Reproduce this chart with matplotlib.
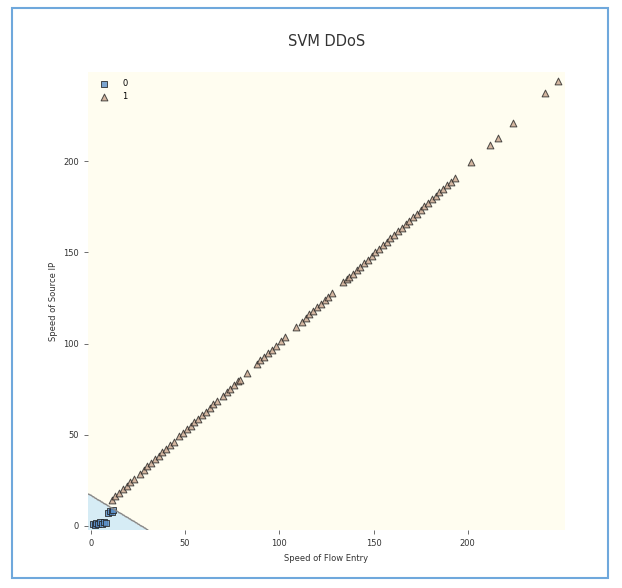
import numpy as np
import matplotlib
matplotlib.use('Agg')
import matplotlib.pyplot as plt
from matplotlib.patches import Rectangle

# clase 0 (cuadrados) cerca del origen
x_clase0 = [1, 2, 3, 4, 5, 6, 7, 8, 9, 10, 11, 12]
y_clase0 = [1, 0.5, 1.5, 1, 2, 1, 2, 1.5, 7, 8, 7.5, 8.5]

# clase 1 (triangulos) sobre la diagonal
x_clase1 = [11, 13, 15, 17, 19, 21, 23,
            26, 28, 30, 32, 34, 36, 38, 40, 42, 44,
            47, 49, 51, 53, 55, 57, 59, 61, 63, 65,
            67, 70, 72, 74, 76, 78, 79, 83,
            88, 90, 92, 94, 96, 98, 101, 103, 109,
            112, 114, 116, 118, 120, 122, 124, 126, 128,
            134, 136, 137, 139, 141,
            143, 145, 147, 149, 151, 153, 155, 157, 159, 161, 163, 165, 167,
            169, 171, 173, 175, 177, 179, 181, 183, 185, 187, 189, 191, 193,
            202, 212, 216, 224, 241, 248]
y_clase1 = [14.2, 16.1, 18.1, 20.0, 21.9, 23.9, 25.8,
            28.7, 30.7, 32.6, 34.5, 36.5, 38.4, 40.4, 42.3, 44.2, 46.2,
            49.1, 51.0, 53.0, 54.9, 56.9, 58.8, 60.7, 62.7, 64.6, 66.6,
            68.5, 71.4, 73.3, 75.3, 77.2, 79.2, 80.1, 84.0,
            88.9, 90.8, 92.7, 94.7, 96.6, 98.6, 101.5, 103.4, 109.2,
            112.1, 114.1, 116.0, 118.0, 119.9, 121.8, 123.8, 125.7, 127.7,
            133.5, 135.4, 136.4, 138.3, 140.3,
            142.2, 144.2, 146.1, 148.0, 150.0, 151.9, 153.9, 155.8, 157.7, 159.7, 161.6, 163.6, 165.5,
            167.4, 169.4, 171.3, 173.3, 175.2, 177.1, 179.1, 181.0, 183.0, 184.9, 186.8, 188.8, 190.7,
            199.4, 209.1, 213.0, 220.8, 237.3, 244.1]

# frontera lineal del SVM: y = b + m*x
pendiente = -0.625
intercepto = 16.7

fig = plt.figure(figsize=(6.22, 5.88), dpi=100)
ax = fig.add_axes([0.1415, 0.0986, 0.7665, 0.779])

# regiones de decision
xx, yy = np.meshgrid(np.linspace(-1.5, 251.5, 600), np.linspace(-2.3, 249, 600))
Z = (yy - (intercepto + pendiente * xx) > 0).astype(int)
ax.contourf(xx, yy, Z, levels=[-0.5, 0.5, 1.5], colors=['#d6ecf5', '#fffdf0'])
ax.contour(xx, yy, Z, levels=[0.5], colors='#8a8a8a', linewidths=1)

ax.scatter(x_clase0, y_clase0, marker='s', s=22, c='#5b8fc7', edgecolors='#222222',
           linewidths=0.7, alpha=0.8, label='0')
ax.scatter(x_clase1, y_clase1, marker='^', s=24, c='#c9a48c', edgecolors='#222222',
           linewidths=0.7, alpha=0.8, label='1')

ax.set_xlim(-1.5, 251.5)
ax.set_ylim(-2.3, 249)
ax.set_xticks([0, 50, 100, 150, 200])
ax.set_yticks([0, 50, 100, 150, 200])
for s in ax.spines.values():
    s.set_visible(False)
ax.tick_params(labelsize=6, length=3, width=0.6, color='#555555', labelcolor='#333333')

ax.set_xlabel('Speed of Flow Entry', fontsize=6, color='#333333')
ax.set_ylabel('Speed of Source IP', fontsize=6, color='#333333')
ax.set_title('SVM DDoS', fontsize=10.5, color='#333333', pad=19)

ax.legend(loc='upper left', fontsize=6, frameon=False, handletextpad=1.2,
          borderaxespad=0.5, labelspacing=0.4)

# marco azul de la captura
fig.patches.append(Rectangle((12 / 622, 10 / 588), 596 / 622, 570 / 588,
                             transform=fig.transFigure, fill=False,
                             edgecolor='#6fa8dc', linewidth=1.5))

plt.savefig('out.png', dpi=100)
